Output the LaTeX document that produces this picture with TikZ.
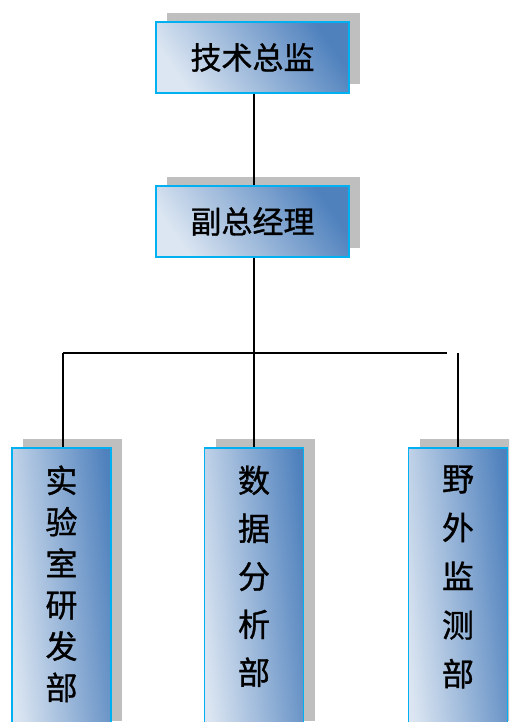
\documentclass[tikz,border=0pt]{standalone}
\usepackage{fontspec}
\newfontfamily\cjk[FakeBold=1]{Noto Sans CJK SC}
\usetikzlibrary{shadows}
\definecolor{boxdark}{HTML}{4F81BD}
\definecolor{boxlight}{HTML}{DCE6F2}
\definecolor{boxedge}{HTML}{00B0F0}
\definecolor{shadowgray}{HTML}{BFBFBF}
\begin{document}
\begin{tikzpicture}[x=1pt,y=-1pt,
  orgbox/.style={draw=boxedge, line width=1.5pt, left color=boxlight, right color=boxdark,
    inner sep=0pt,
    drop shadow={shadow xshift=11pt, shadow yshift=9pt, fill=shadowgray, opacity=1}},
  hbox/.style={orgbox, shading angle=125, minimum width=193pt, minimum height=71pt},
  vbox/.style={orgbox, shading angle=96, minimum width=99pt, minimum height=282pt, anchor=north},
  htext/.style={font=\cjk\fontsize{31}{31}\selectfont, text=black},
  vtext/.style={text=black, align=center, anchor=north},
  conn/.style={line width=1.6pt, black}]
\useasboundingbox (0,0) rectangle (509,722);
\clip (0,0) rectangle (509,722);
% top boxes
\node[hbox, htext] (cto) at (252.5,57.5) {技术总监};
\node[hbox, htext] (vp) at (252.5,221.5) {副总经理};
% bottom boxes
\node[vbox] (lab) at (61.5,447) {};
\node[vbox] (data) at (254,447) {};
\node[vbox] (field) at (458,447) {};
% vertical labels
\node[vtext, font=\cjk\fontsize{32}{41.4}\selectfont] (labt) at (61.5,462) {实\\验\\室\\研\\发\\部};
\node[vtext, font=\cjk\fontsize{32}{48}\selectfont] (datat) at (254,462) {数\\据\\分\\析\\部};
\node[vtext, font=\cjk\fontsize{32}{48.75}\selectfont] (fieldt) at (458,462) {野\\外\\监\\测\\部};
% connector points
\coordinate (hl) at (63,353);
\coordinate (hm) at (data.north |- hl);
\coordinate (hr) at (447,353);
\coordinate (rt) at (field.north |- hl);
% connectors
\draw[conn] (cto.south -| data.north) -- (vp.north -| data.north);
\draw[conn] (vp.south -| data.north) -- (data.north);
\draw[conn] (hl) -- (hr);
\draw[conn] (hl) -- (hl |- lab.north);
\draw[conn] (rt) -- (field.north);
\end{tikzpicture}
\end{document}
